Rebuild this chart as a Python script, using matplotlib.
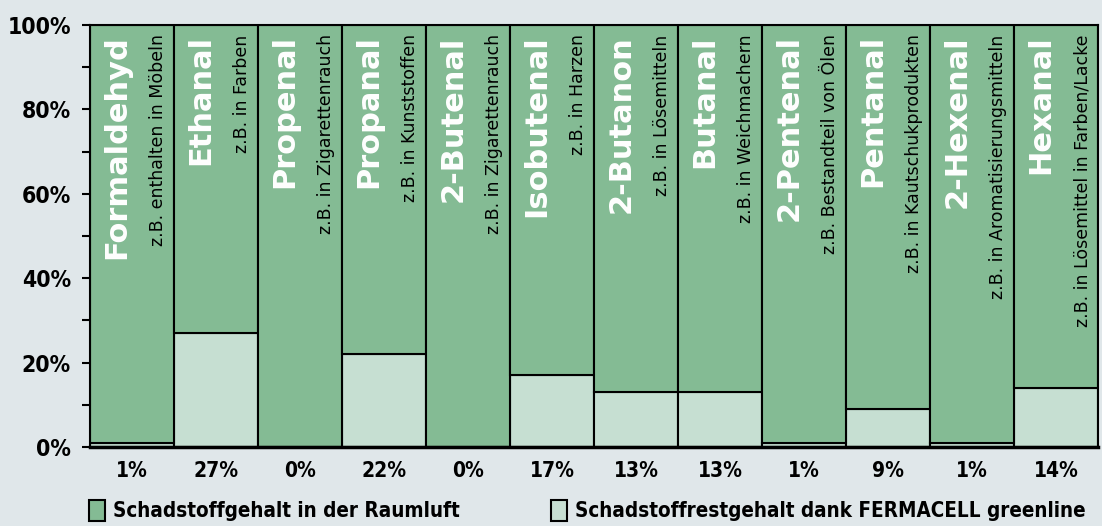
import matplotlib
matplotlib.use('Agg')
import matplotlib.pyplot as plt
from matplotlib.patches import Rectangle
from matplotlib.ticker import MultipleLocator, FuncFormatter

# Daten
namen = ['Formaldehyd', 'Ethanal', 'Propenal', 'Propanal', '2-Butenal', 'Isobutenal',
         '2-Butanon', 'Butanal', '2-Pentenal', 'Pentanal', '2-Hexenal', 'Hexanal']
beschreibung = ['z.B. enthalten in Möbeln', 'z.B. in Farben', 'z.B. in Zigarettenrauch',
                'z.B. in Kunststoffen', 'z.B. in Zigarettenrauch', 'z.B. in Harzen',
                'z.B. in Lösemitteln', 'z.B. in Weichmachern', 'z.B. Bestandteil von Ölen',
                'z.B. in Kautschukprodukten', 'z.B. in Aromatisierungsmitteln',
                'z.B. in Lösemittel in Farben/Lacke']
rest = [1, 27, 0, 22, 0, 17, 13, 13, 1, 9, 1, 14]   # Schadstoffrestgehalt %
gesamt = [100] * 12
legende = ['Schadstoffgehalt in der Raumluft', 'Schadstoffrestgehalt dank FERMACELL greenline']

bg = '#e0e7ea'
dunkel = '#84bb94'
hell = '#c6dfd2'
schmal = dict(family='DejaVu Sans', stretch='condensed', weight='bold')

fig = plt.figure(figsize=(11.02, 5.26), dpi=100, facecolor=bg)
ax = fig.add_axes([90/1102, 79/526, 1008/1102, 422/526])
ax.set_facecolor(bg)

x = list(range(len(namen)))
oben = [g - r for g, r in zip(gesamt, rest)]
ax.bar(x, rest, width=1.0, color=hell, edgecolor='black', linewidth=1.5, align='center')
ax.bar(x, oben, bottom=rest, width=1.0, color=dunkel, edgecolor='black', linewidth=1.5, align='center')

ax.set_xlim(-0.5, len(namen) - 0.5)
ax.set_ylim(0, 100)

for i in x:
    ax.text(i - 0.18, 97.6, namen[i], rotation=90, ha='center', va='top',
            color='white', fontsize=22, fontweight='bold', family='DejaVu Sans')
    ax.text(i + 0.31, 97.8, beschreibung[i], rotation=90, ha='center', va='top',
            color='black', fontsize=12.5, family='DejaVu Sans')

ax.yaxis.set_major_locator(MultipleLocator(20))
ax.yaxis.set_minor_locator(MultipleLocator(10))
ax.yaxis.set_major_formatter(FuncFormatter(lambda v, p: '%d%%' % v))
ax.tick_params(axis='y', which='both', direction='out', length=5.8, width=1.5, color='black')
ax.tick_params(axis='y', which='major', labelsize=16.5, pad=8)
for lab in ax.get_yticklabels():
    lab.set(**schmal)

ax.set_xticks(x)
ax.set_xticklabels(['%d%%' % r for r in rest], fontsize=15, **schmal)
ax.tick_params(axis='x', length=0, pad=10)

for s in ax.spines.values():
    s.set_linewidth(1.5)
    s.set_color('black')
ax.spines['bottom'].set_linewidth(2.5)

# Legende
for (lx, farbe, text) in [(89, dunkel, legende[0]), (551, hell, legende[1])]:
    fig.patches.append(Rectangle((lx/1102, 5/526), 16/1102, 21/526, transform=fig.transFigure,
                                 facecolor=farbe, edgecolor='black', linewidth=1.5))
    fig.text((lx + 24)/1102, 15/526, text, ha='left', va='center', fontsize=14.8, **schmal)

fig.savefig('out.png', dpi=100, facecolor=bg)
